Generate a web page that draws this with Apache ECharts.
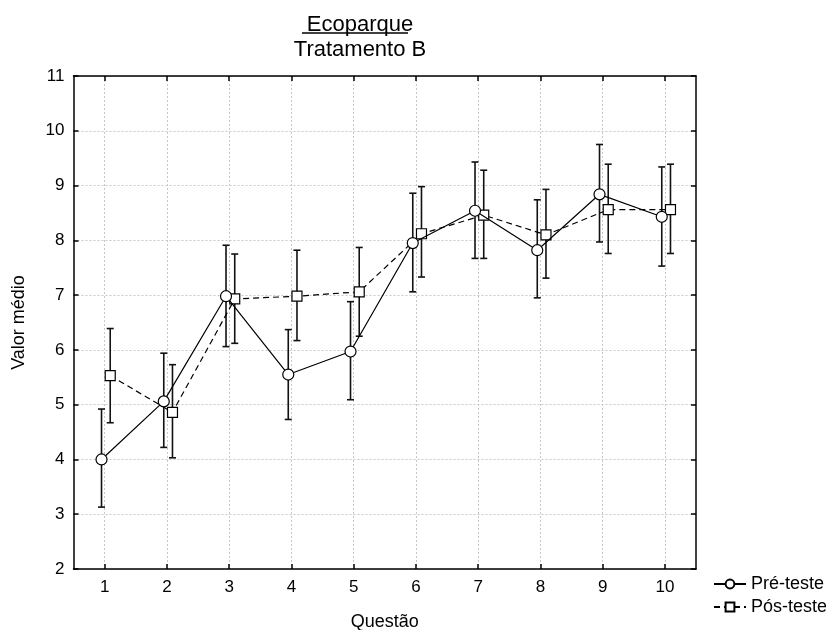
<!DOCTYPE html>
<html>
<head>
<meta charset="utf-8">
<script src="https://cdn.jsdelivr.net/npm/echarts@6/dist/echarts.min.js"></script>
<style>
  html, body { margin: 0; padding: 0; background: #fff; }
  #main { width: 826px; height: 630px; }
</style>
</head>
<body>
<div id="main"></div>
<script>
// dados
const questoes = [1, 2, 3, 4, 5, 6, 7, 8, 9, 10]
const yTicks = [2, 3, 4, 5, 6, 7, 8, 9, 10, 11]
const preMedia = [4.00, 5.06, 6.98, 5.55, 5.97, 7.95, 8.54, 7.82, 8.84, 8.43]
const preMin = [3.13, 4.22, 6.06, 4.73, 5.09, 7.06, 7.67, 6.95, 7.97, 7.53]
const preMax = [4.92, 5.94, 7.91, 6.37, 6.88, 8.86, 9.43, 8.74, 9.75, 9.34]
const posMedia = [5.53, 4.86, 6.93, 6.98, 7.06, 8.12, 8.46, 8.10, 8.56, 8.56]
const posMin = [4.67, 4.03, 6.12, 6.17, 6.25, 7.33, 7.67, 7.31, 7.76, 7.76]
const posMax = [6.39, 5.73, 7.75, 7.82, 7.87, 8.98, 9.28, 8.93, 9.39, 9.39]

const PRE_OFF = -0.05
const POS_OFF = 0.09
const FONT = 'Liberation Sans'

const myChart = echarts.init(document.getElementById('main'), null, { renderer: 'canvas' })

function errorBars (offset, lows, highs) {
  return questoes.map((q, i) => [q + offset, lows[i], highs[i]])
}

function renderErr (params, api) {
  const x = api.value(0)
  const lo = api.coord([x, api.value(1)])
  const hi = api.coord([x, api.value(2)])
  const w = 3.5
  const style = { stroke: '#111', lineWidth: 1.6 }
  return {
    type: 'group',
    children: [
      { type: 'line', shape: { x1: lo[0], y1: lo[1], x2: hi[0], y2: hi[1] }, style },
      { type: 'line', shape: { x1: lo[0] - w, y1: lo[1], x2: lo[0] + w, y2: lo[1] }, style },
      { type: 'line', shape: { x1: hi[0] - w, y1: hi[1], x2: hi[0] + w, y2: hi[1] }, style }
    ]
  }
}

const frameTick = { show: true, inside: true, length: 5, lineStyle: { color: '#000', width: 1.5 } }
const frameLine = { show: true, lineStyle: { color: '#000', width: 1.5 } }
const grade = { show: true, lineStyle: { color: '#c8c8c8', type: [2, 2], width: 1 } }

myChart.setOption({
  animation: false,
  textStyle: { fontFamily: FONT },
  title: {
    text: 'Ecoparque',
    subtext: 'Tratamento B',
    left: 355,
    top: 9,
    textAlign: 'center',
    itemGap: 3,
    textStyle: { fontSize: 22, fontWeight: 'normal', color: '#000', fontFamily: FONT },
    subtextStyle: { fontSize: 22, color: '#000', fontFamily: FONT }
  },
  graphic: [
    { type: 'line', shape: { x1: 302, y1: 33, x2: 408, y2: 33 }, style: { stroke: '#000', lineWidth: 1.4 } }
  ],
  legend: {
    orient: 'vertical',
    left: 708,
    top: 570,
    itemGap: 5,
    itemWidth: 32,
    itemHeight: 11,
    textStyle: { fontSize: 18, color: '#000', fontFamily: FONT, padding: [0, 0, 0, 0] },
    data: ['Pré-teste', 'Pós-teste']
  },
  grid: { left: 73.5, right: 130, top: 76, bottom: 61, outerBoundsMode: 'none', containLabel: false },
  xAxis: [
    {
      type: 'value',
      min: 0.5,
      max: 10.5,
      position: 'bottom',
      name: 'Questão',
      nameLocation: 'middle',
      nameGap: 44,
      nameTextStyle: { fontSize: 18, color: '#000' },
      axisLine: frameLine,
      axisTick: Object.assign({}, frameTick, { customValues: questoes }),
      axisLabel: { customValues: questoes, fontSize: 17, color: '#000', margin: 10 },
      splitLine: grade
    },
    {
      type: 'value',
      min: 0.5,
      max: 10.5,
      position: 'top',
      axisLine: frameLine,
      axisTick: Object.assign({}, frameTick, { customValues: questoes }),
      axisLabel: { show: false, customValues: questoes },
      splitLine: { show: false }
    }
  ],
  yAxis: [
    {
      type: 'value',
      min: yTicks[0],
      max: yTicks[yTicks.length - 1],
      interval: 1,
      position: 'left',
      name: 'Valor médio',
      nameLocation: 'middle',
      nameGap: 45,
      nameTextStyle: { fontSize: 18, color: '#000' },
      axisLine: frameLine,
      axisTick: frameTick,
      axisLabel: { fontSize: 17, color: '#000', margin: 9 },
      splitLine: grade
    },
    {
      type: 'value',
      min: yTicks[0],
      max: yTicks[yTicks.length - 1],
      interval: 1,
      position: 'right',
      axisLine: frameLine,
      axisTick: frameTick,
      axisLabel: { show: false },
      splitLine: { show: false }
    }
  ],
  series: [
    {
      type: 'custom',
      name: 'erroPre',
      renderItem: renderErr,
      data: errorBars(PRE_OFF, preMin, preMax),
      encode: { x: 0, y: [1, 2] },
      z: 1,
      silent: true
    },
    {
      type: 'custom',
      name: 'erroPos',
      renderItem: renderErr,
      data: errorBars(POS_OFF, posMin, posMax),
      encode: { x: 0, y: [1, 2] },
      z: 1,
      silent: true
    },
    {
      name: 'Pré-teste',
      type: 'line',
      data: questoes.map((q, i) => [q + PRE_OFF, preMedia[i]]),
      symbol: 'circle',
      symbolSize: 11,
      lineStyle: { color: '#000', width: 1.2 },
      itemStyle: { color: '#fff', borderColor: '#000', borderWidth: 1.2 },
      z: 3
    },
    {
      name: 'Pós-teste',
      type: 'line',
      data: questoes.map((q, i) => [q + POS_OFF, posMedia[i]]),
      symbol: 'rect',
      symbolSize: 10,
      lineStyle: { color: '#000', width: 1.2, type: [6, 4] },
      itemStyle: { color: '#fff', borderColor: '#000', borderWidth: 1.2 },
      z: 2
    }
  ]
})
</script>
</body>
</html>
